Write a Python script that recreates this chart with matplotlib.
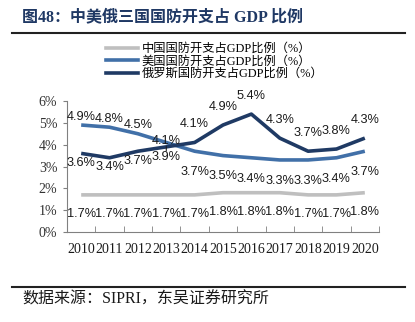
import matplotlib.pyplot as plt
from matplotlib.lines import Line2D

# data (%)
years = [2010, 2011, 2012, 2013, 2014, 2015, 2016, 2017, 2018, 2019, 2020]
china = [1.7, 1.7, 1.7, 1.7, 1.7, 1.8, 1.8, 1.8, 1.7, 1.7, 1.8]
usa = [4.9, 4.8, 4.5, 4.1, 3.7, 3.5, 3.4, 3.3, 3.3, 3.4, 3.7]
russia = [3.6, 3.4, 3.7, 3.9, 4.1, 4.9, 5.4, 4.3, 3.7, 3.8, 4.3]
yticks = [0, 1, 2, 3, 4, 5, 6]

labels = ['中国国防开支占GDP比例（%）', '美国国防开支占GDP比例（%）', '俄罗斯国防开支占GDP比例（%）']

SERIF = ['Liberation Serif', 'Noto Sans CJK SC']
SANS = ['Liberation Sans', 'DejaVu Sans']

c_china = '#BFBFBF'
c_usa = '#4170A8'
c_russia = '#1F3A64'

fig = plt.figure(figsize=(4.15, 3.22), dpi=100)
ax = fig.add_axes([67 / 415, 1 - 232 / 322, 312 / 415, 131 / 322])

x = list(range(len(years)))
ax.plot(x, china, color=c_china, lw=2.6, solid_capstyle='butt')
ax.plot(x, usa, color=c_usa, lw=2.6, solid_capstyle='butt')
ax.plot(x, russia, color=c_russia, lw=2.6, solid_capstyle='butt')

# label offsets in points (above / below the line)
def put_labels(vals, offsets):
    for i, (v, off) in enumerate(zip(vals, offsets)):
        ax.annotate(f'{v:.1f}%', (i, v), xytext=(0, off), textcoords='offset points',
                    ha='center', va='center', fontsize=9.2, family=SANS, color='#1a1a1a')

put_labels(china, [-14] * 11)
put_labels(usa, [6, 6, 6, 1] + [-15] * 7)
put_labels(russia, [-7, -7, -7, -7] + [13] * 7)

# small leader under the crowded 2013 label
ax.annotate('', (3, usa[3]), xytext=(0, -6), textcoords='offset points',
            arrowprops=dict(arrowstyle='-', lw=0.8, color='#1a1a1a', shrinkA=0, shrinkB=3))

ax.set_xlim(-0.5, len(years) - 0.5)
ax.set_ylim(0, 6)
ax.set_yticks(yticks)
ax.set_yticklabels([f'{t}%' for t in yticks], family=SERIF, fontsize=10, color='#333333')
ax.set_xticks(x)
ax.set_xticklabels([str(y) for y in years], family=SERIF, fontsize=10, color='#1a1a1a')
ax.set_xticks([i - 0.5 for i in range(len(years) + 1)], minor=True)
ax.tick_params(axis='x', which='major', length=0, pad=8)
ax.tick_params(axis='x', which='minor', length=4, color='#808080', direction='in')
ax.tick_params(axis='y', length=3, color='#808080', direction='out', pad=4)
for s in ['top', 'right']:
    ax.spines[s].set_visible(False)
for s in ['left', 'bottom']:
    ax.spines[s].set_color('#808080')
    ax.spines[s].set_linewidth(0.8)

handles = [Line2D([], [], color=c, lw=2.6) for c in (c_china, c_usa, c_russia)]
fig.legend(handles, labels, loc='upper left', bbox_to_anchor=(106 / 415, 1 - 43 / 322),
           frameon=False, borderpad=0, borderaxespad=0, handlelength=2.6,
           handletextpad=0.3, labelspacing=0.05, prop={'family': SERIF, 'size': 8.8})

# header and footer
fig.text(22 / 415, 1 - 17 / 322, '图48：中美俄三国国防开支占 GDP 比例', family=SERIF,
         fontsize=11.5, fontweight='bold', color='#1F3864', va='center', ha='left')
fig.add_artist(Line2D([12 / 415, 405 / 415], [1 - 33 / 322] * 2, color='#222222', lw=1.5))
fig.add_artist(Line2D([12 / 415, 405 / 415], [1 - 287 / 322] * 2, color='#222222', lw=1.5))
fig.text(22 / 415, 1 - 300 / 322, '数据来源：SIPRI，东吴证券研究所', family=SERIF,
         fontsize=11.5, color='#1a1a1a', va='center', ha='left')

fig.savefig('out.png', dpi=100)
